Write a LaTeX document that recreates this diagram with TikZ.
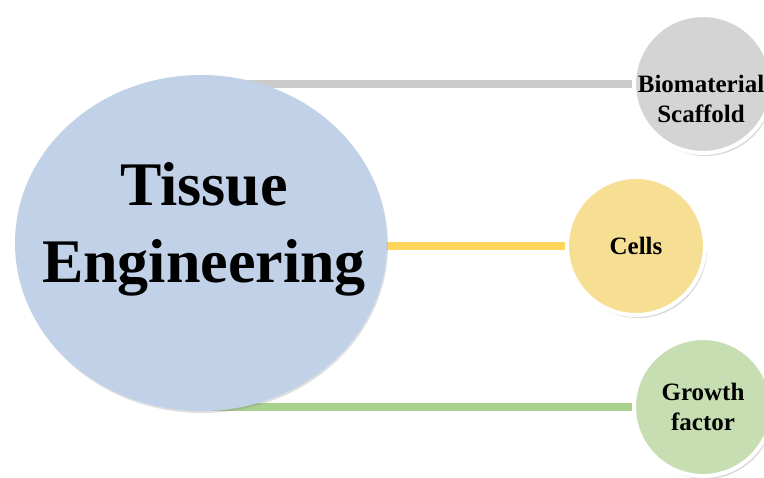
\documentclass[tikz,border=0pt]{standalone}
\usepackage{fontspec}
\setmainfont{Liberation Serif}
\usetikzlibrary{shapes.geometric,shadows,backgrounds}
\definecolor{teblue}{HTML}{C1D1E8}
\definecolor{biogray}{HTML}{D4D4D4}
\definecolor{cellyel}{HTML}{F6DE92}
\definecolor{gfgreen}{HTML}{C6DEB1}
\definecolor{lgray}{HTML}{CBCBCB}
\definecolor{lyel}{HTML}{FFD65C}
\definecolor{lgreen}{HTML}{A9D18E}
\begin{document}
\begin{tikzpicture}[x=1pt,y=1pt,
    part/.style={circle,draw=white,line width=4pt,minimum size=138pt,inner sep=0pt,align=center,
      font=\fontsize{25}{30}\selectfont\bfseries,
      drop shadow={opacity=0.3,shadow xshift=2pt,shadow yshift=-3pt}},
    link/.style={line width=8pt}]
        \useasboundingbox (0,0) rectangle (764,478);
        \node[ellipse,fill=teblue,minimum width=372pt,minimum height=336pt,
          drop shadow={opacity=0.25,shadow xshift=1pt,shadow yshift=-2pt}] (te) at (201,235) {};
        \node[align=center,font=\fontsize{62}{77}\selectfont\bfseries] (tetext) at ([xshift=3pt,yshift=14pt]te.center) {Tissue\\Engineering};
        \node[part,fill=biogray] (bio) at (703,394) {\raisebox{-24pt}[0pt][0pt]{\begin{tabular}{@{}c@{}}Biomaterial\\Scaffold\end{tabular}}\hspace*{4pt}};
        \node[part,fill=cellyel] (cells) at (636,232) {Cells};
        \node[part,fill=gfgreen] (gf) at (703,71) {Growth\\factor};

        \begin{pgfonlayer}{background}
        \draw[link,lgray] (te.center |- bio) -- (bio);
        \draw[link,lyel] (te.center |- cells) -- (cells);
        \draw[link,lgreen] (te.center |- gf) -- (gf);
        \end{pgfonlayer}
    \end{tikzpicture}
\end{document}
